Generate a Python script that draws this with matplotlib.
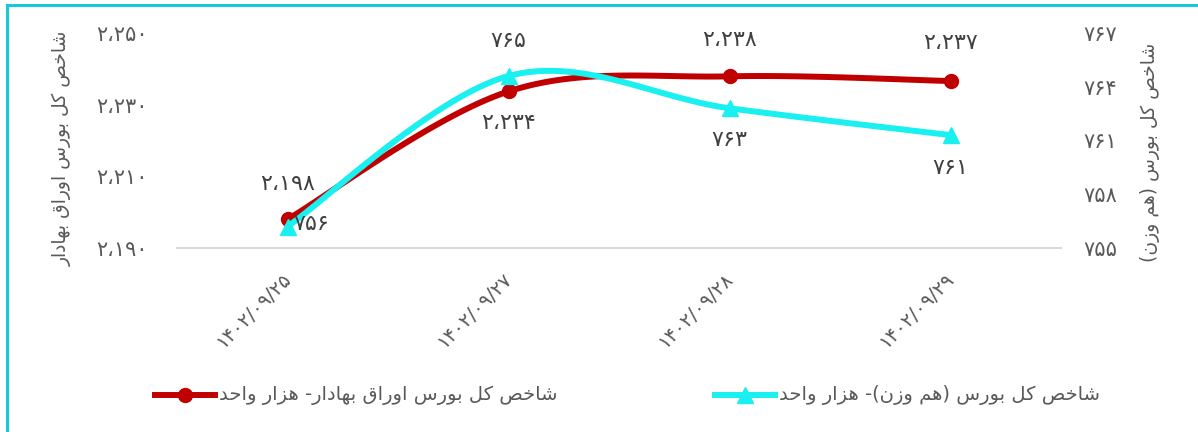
import numpy as np
import matplotlib
matplotlib.use("Agg")
import matplotlib.pyplot as plt
from matplotlib.lines import Line2D
from matplotlib.ticker import FuncFormatter, FixedLocator

# ---------------- data ----------------
categories = ["۱۴۰۲/۰۹/۲۵", "۱۴۰۲/۰۹/۲۷", "۱۴۰۲/۰۹/۲۸", "۱۴۰۲/۰۹/۲۹"]
bond_index = [2198.0, 2233.7, 2237.9, 2236.6]      # left axis (red)
equal_weight_index = [756.2, 764.6, 762.8, 761.3]   # right axis (cyan)
left_ticks = [2190, 2210, 2230, 2250]
right_ticks = [755, 758, 761, 764, 767]
bond_label = "شاخص کل بورس اوراق بهادار- هزار واحد"
equal_label = "شاخص کل بورس (هم وزن)- هزار واحد"
left_axis_title = "شاخص کل بورس اوراق بهادار"
right_axis_title = "شاخص کل بورس (هم وزن)"

# ---------------- Arabic/Persian shaping (no external libs) ----------------
FORMS = {  # iso, fin, ini, med
    'ا': (0xFE8D, 0xFE8E, None, None),
    'ب': (0xFE8F, 0xFE90, 0xFE91, 0xFE92),
    'ت': (0xFE95, 0xFE96, 0xFE97, 0xFE98),
    'ح': (0xFEA1, 0xFEA2, 0xFEA3, 0xFEA4),
    'خ': (0xFEA5, 0xFEA6, 0xFEA7, 0xFEA8),
    'د': (0xFEA9, 0xFEAA, None, None),
    'ر': (0xFEAD, 0xFEAE, None, None),
    'ز': (0xFEAF, 0xFEB0, None, None),
    'س': (0xFEB1, 0xFEB2, 0xFEB3, 0xFEB4),
    'ش': (0xFEB5, 0xFEB6, 0xFEB7, 0xFEB8),
    'ص': (0xFEB9, 0xFEBA, 0xFEBB, 0xFEBC),
    'ق': (0xFED5, 0xFED6, 0xFED7, 0xFED8),
    'ک': (0xFED9, 0xFEDA, 0xFEDB, 0xFEDC),
    'ل': (0xFEDD, 0xFEDE, 0xFEDF, 0xFEE0),
    'م': (0xFEE1, 0xFEE2, 0xFEE3, 0xFEE4),
    'ن': (0xFEE5, 0xFEE6, 0xFEE7, 0xFEE8),
    'ه': (0xFEE9, 0xFEEA, 0xFEEB, 0xFEEC),
    'و': (0xFEED, 0xFEEE, None, None),
}


def dual(c):
    return c in FORMS and FORMS[c][2] is not None


def shape_rtl(s):
    out = []
    n = len(s)
    for i, c in enumerate(s):
        if c not in FORMS:
            out.append(c)
            continue
        prev_j = i > 0 and dual(s[i - 1])
        next_j = dual(c) and i < n - 1 and s[i + 1] in FORMS
        iso, fin, ini, med = FORMS[c]
        if prev_j and next_j:
            g = med
        elif prev_j:
            g = fin
        elif next_j:
            g = ini
        else:
            g = iso
        out.append(chr(g))
    vis = ''.join(reversed(out))
    vis = vis.translate(str.maketrans({'(': ')', ')': '('}))
    return vis


FA_DIGITS = str.maketrans('0123456789,', '۰۱۲۳۴۵۶۷۸۹،')


def fa_num(v):
    return f"{int(np.floor(v + 0.5)):,}".translate(FA_DIGITS)


# ---------------- smoothing (Bezier, like Excel smoothed lines) ----------------
def smooth(xs, ys, n=40):
    xs = np.asarray(xs, float)
    ys = np.asarray(ys, float)
    P = np.column_stack([xs, ys])
    P = np.vstack([P[0], P, P[-1]])
    pts = []
    for i in range(1, len(P) - 2):
        p0, p1, p2, p3 = P[i - 1], P[i], P[i + 1], P[i + 2]
        c1 = p1 + (p2 - p0) / 6.0
        c2 = p2 - (p3 - p1) / 6.0
        t = np.linspace(0, 1, n)[:, None]
        b = ((1 - t) ** 3) * p1 + 3 * ((1 - t) ** 2) * t * c1 + 3 * (1 - t) * t ** 2 * c2 + t ** 3 * p2
        pts.append(b if i == 1 else b[1:])
    pts = np.vstack(pts)
    return pts[:, 0], pts[:, 1]


# ---------------- figure ----------------
plt.rcParams['font.family'] = ['DejaVu Sans']
W, H = 1198, 432
fig = plt.figure(figsize=(W / 100, H / 100), dpi=100)
fig.patch.set_facecolor('white')

RED = '#C00000'
CYAN = '#1AF0F0'
TXT = '#595959'
LBL = '#404040'


def fx(px):
    return px / W


def fy(py):
    return 1 - py / H


ax = fig.add_axes([fx(177), fy(248), fx(1061) - fx(177), fy(33) - fy(248)])
ax2 = ax.twinx()

x = np.arange(len(categories))

# red series (left axis)
sx, sy = smooth(x, bond_index)
ax.plot(sx, sy, color=RED, lw=4.3, solid_capstyle='round', zorder=3)
ax.plot(x, bond_index, ls='none', marker='o', ms=10, color=RED, zorder=4)

# cyan series (right axis)
cx, cy = smooth(x, equal_weight_index)
ax2.plot(cx, cy, color=CYAN, lw=4.3, solid_capstyle='round', zorder=3)
ax2.plot(x, equal_weight_index, ls='none', marker='^', ms=11, color=CYAN, zorder=4)

ax.set_xlim(-0.5, len(categories) - 0.5)
ax.set_ylim(left_ticks[0], left_ticks[-1])
ax2.set_ylim(right_ticks[0], right_ticks[-1])

ax.yaxis.set_major_locator(FixedLocator(left_ticks))
ax2.yaxis.set_major_locator(FixedLocator(right_ticks))
ax.yaxis.set_major_formatter(FuncFormatter(lambda v, p: fa_num(v)))
ax2.yaxis.set_major_formatter(FuncFormatter(lambda v, p: fa_num(v)))

for a in (ax, ax2):
    for s in a.spines.values():
        s.set_visible(False)
    a.set_facecolor('none')
ax.spines['bottom'].set_visible(True)
ax.spines['bottom'].set_color('#D9D9D9')
ax.spines['bottom'].set_linewidth(1.5)

ax.tick_params(axis='y', length=0, pad=21, labelsize=15, labelcolor=TXT)
ax2.tick_params(axis='y', length=0, pad=16, labelsize=15, labelcolor=TXT)
ax.set_xticks(x)
ax.set_xticklabels(categories, rotation=45, ha='right', va='center',
                   rotation_mode='anchor', fontsize=14, color=TXT)
ax.tick_params(axis='x', length=0, pad=20)

# axis titles
fig.text(fx(62), fy(148), shape_rtl(left_axis_title), rotation=90,
         ha='center', va='center', fontsize=13.5, color=TXT)
fig.text(fx(1150), fy(152), shape_rtl(right_axis_title), rotation=90,
         ha='center', va='center', fontsize=13.5, color=TXT)

# data labels (offsets in pixels -> points)
red_offsets = [(0, 35), (0, -32), (0, 36), (0, 38)]
cyan_offsets = [(24, 3), (0, 35), (0, -32), (0, -33)]
for xi, v, (dx, dy) in zip(x, bond_index, red_offsets):
    ax.annotate(fa_num(v), (xi, v), xytext=(dx * 0.72, dy * 0.72),
                textcoords='offset points', ha='center', va='center',
                fontsize=16, color=LBL, zorder=5)
for xi, v, (dx, dy) in zip(x, equal_weight_index, cyan_offsets):
    ax2.annotate(fa_num(v), (xi, v), xytext=(dx * 0.72, dy * 0.72),
                 textcoords='offset points', ha='center', va='center',
                 fontsize=16, color=LBL, zorder=5)

# legend (drawn manually to match the reference placement)
legend_y = fy(395)
for (x0, x1, color, marker, ms, label) in [
        (155, 215, RED, 'o', 10, bond_label),
        (715, 775, CYAN, '^', 11, equal_label)]:
    fig.add_artist(Line2D([fx(x0), fx(x1)], [legend_y, legend_y], color=color, lw=4.3))
    fig.add_artist(Line2D([fx((x0 + x1) / 2)], [legend_y], color=color,
                          marker=marker, ms=ms, ls='none'))
    fig.text(fx(x1 + 4), legend_y, shape_rtl(label), ha='left', va='center',
             fontsize=14, color=TXT)

# outer border (top and left visible)
fig.add_artist(Line2D([fx(7), 1.0], [fy(5), fy(5)], color='#17C9DD', lw=2.2))
fig.add_artist(Line2D([fx(7), fx(7)], [fy(5), 0.0], color='#17C9DD', lw=2.2))

fig.savefig('out.png', dpi=100)
